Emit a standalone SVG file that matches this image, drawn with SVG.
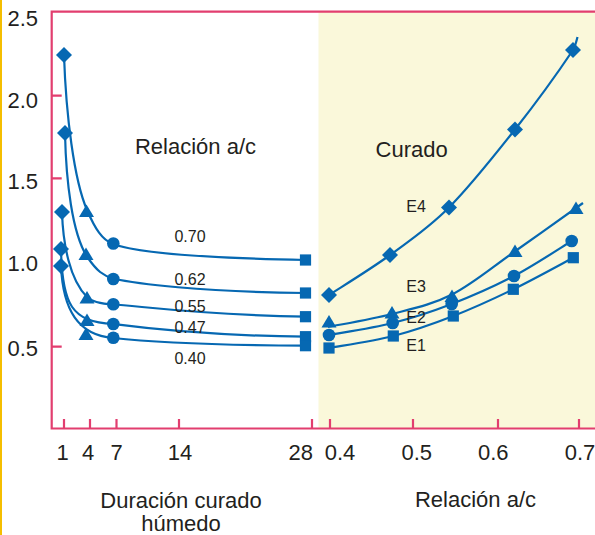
<svg xmlns="http://www.w3.org/2000/svg" xmlns:xlink="http://www.w3.org/1999/xlink" width="595" height="535" viewBox="0 0 595 535">
<style>
  .ax { stroke: #E23E6F; stroke-width: 2.2; fill: none; }
  .cv { stroke: #0668B2; stroke-width: 2.2; fill: none; }
  .mk { fill: #0668B2; }
  text { font-family: "Liberation Sans", Arial, sans-serif; fill: #231F20; }
  .big { font-size: 22px; }
  .sm { font-size: 16px; }
  .mid { text-anchor: middle; }
  .end { text-anchor: end; }
</style>
<defs>
  <path id="dia" d="M0,-8 L8,0 L0,8 L-8,0Z"/>
  <path id="tri" d="M0,-7.5 L7.5,5 L-7.5,5Z"/>
  <circle id="cir" r="6.3"/>
  <rect id="sq" x="-5.6" y="-5.6" width="11.2" height="11.2"/>
</defs>
<rect width="595" height="535" fill="#FFFFFF"/>
<line x1="1" y1="0" x2="1" y2="535" stroke="#F5BE00" stroke-width="2"/>
<g id="background">
  <rect x="318.5" y="12" width="276.5" height="416.5" fill="#FAF8DA"/>
</g>
<g id="axes">
  <path class="ax" d="M595,11.7 L51.7,11.7 L51.7,428.5 L595,428.5"/>
  <path class="ax" d="M51.7,95.7 H61.7 M51.7,178.3 H61.7 M51.7,346.7 H61.7"/>
  <path class="ax" d="M64,428.5 V419 M90,428.5 V419 M116.5,428.5 V419 M179,428.5 V419 M312,428.5 V419 M330,428.5 V419 M413,428.5 V419 M498,428.5 V419 M579,428.5 V419"/>
</g>
<g id="axis-labels">
  <text class="big end" x="38" y="26">2.5</text>
  <text class="big end" x="38" y="108">2.0</text>
  <text class="big end" x="38" y="189">1.5</text>
  <text class="big end" x="38" y="271">1.0</text>
  <text class="big end" x="38" y="356">0.5</text>
  <text class="big mid" x="62.5" y="460">1</text>
  <text class="big mid" x="88" y="460">4</text>
  <text class="big mid" x="116.5" y="460">7</text>
  <text class="big mid" x="180" y="460">14</text>
  <text class="big mid" x="300.7" y="460">28</text>
  <text class="big mid" x="340" y="460">0.4</text>
  <text class="big mid" x="416.7" y="460">0.5</text>
  <text class="big mid" x="493.3" y="460">0.6</text>
  <text class="big mid" x="580" y="460">0.7</text>
  <text class="big mid" x="181" y="508">Duración curado</text>
  <text class="big mid" x="181" y="531">húmedo</text>
  <text class="big mid" x="475.5" y="507">Relación a/c</text>
  <text class="big mid" x="195.5" y="154">Relación a/c</text>
  <text class="big mid" x="411.7" y="157">Curado</text>
</g>
<g id="connectors">
  <path id="c070" class="cv" d="M64,55 C66,115 74,180 87,210 C95,228.5 102,240 113,244 C135,252 200,258 305.5,260"/>
  <path id="c062" class="cv" d="M65,133 C66,180 72,235 88,258 C97,271 103,275.5 113,278.5 C135,283.5 200,292 305.5,293"/>
  <path id="c055" class="cv" d="M62,212 C63,245 70,280 87,297 C93,303 103,304 113,304.5 C140,306 200,315 305.5,316.7"/>
  <path id="c047" class="cv" d="M61,249 C62,305 72,322 113,324 C140,327.5 200,335.5 305.5,336.7"/>
  <path id="c040" class="cv" d="M61,266 C63,310 78,335 113,338 C140,341 200,345 305.5,345.7"/>
  <path id="e4" class="cv" d="M329,295 C339.2,288.3 370,269.6 390,255 C410,240.4 428.2,228.4 449,207.5 C469.8,186.6 494.3,155.75 515,129.5 C535.7,103.25 562.7,65.4 573,50 C575,47 576.5,41 577.5,37"/>
  <path id="e3" class="cv" d="M328,327 C338.7,324.8 371.3,319.4 392,314 C412.7,308.6 431.7,304.8 452,294.5 C472.3,284.2 492.2,267.25 514,252 C535.8,236.75 571.5,211.2 583,203"/>
  <path id="e2" class="cv" d="M329,335 C339.6,333 372.25,328.2 392.7,323 C413.15,317.8 431.5,311.8 451.7,304 C471.9,296.2 494,286.5 514,276 C534,265.5 562.1,246.8 571.7,241"/>
  <path id="e1" class="cv" d="M329,348 C339.7,346 372.6,341.3 393.3,336 C414,330.7 433.3,323.8 453.3,316 C473.3,308.2 493.3,299 513.3,289.3 C533.3,279.6 563.3,263 573.3,257.7"/>
</g>
<g id="markers-left" class="mk">
  <use href="#dia" x="64" y="55"/>
  <use href="#dia" x="65" y="133"/>
  <use href="#dia" x="62" y="212"/>
  <use href="#dia" x="61" y="249"/>
  <use href="#dia" x="61" y="266"/>
  <use href="#tri" x="86.5" y="212"/>
  <use href="#tri" x="86" y="255"/>
  <use href="#tri" x="87" y="298.5"/>
  <use href="#tri" x="87" y="321"/>
  <use href="#tri" x="86" y="335"/>
  <use href="#cir" x="113.3" y="243.5"/>
  <use href="#cir" x="113.3" y="279"/>
  <use href="#cir" x="113.3" y="304.3"/>
  <use href="#cir" x="113.3" y="324"/>
  <use href="#cir" x="113.3" y="337.7"/>
  <use href="#sq" x="305.5" y="260"/>
  <use href="#sq" x="305.5" y="293"/>
  <use href="#sq" x="305.5" y="316.7"/>
  <use href="#sq" x="305.5" y="336.7"/>
  <use href="#sq" x="305.5" y="345.7"/>
</g>
<g id="markers-right" class="mk">
  <use href="#dia" x="329" y="295"/>
  <use href="#dia" x="390" y="255"/>
  <use href="#dia" x="449" y="207.5"/>
  <use href="#dia" x="515" y="129.5"/>
  <use href="#dia" x="573" y="50"/>
  <use href="#tri" x="329" y="322.5"/>
  <use href="#tri" x="392" y="313.6"/>
  <use href="#tri" x="452" y="297"/>
  <use href="#tri" x="515" y="252"/>
  <use href="#tri" x="576" y="209"/>
  <use href="#cir" x="329" y="335"/>
  <use href="#cir" x="392.7" y="323"/>
  <use href="#cir" x="451.7" y="304"/>
  <use href="#cir" x="514" y="276"/>
  <use href="#cir" x="571.7" y="241"/>
  <use href="#sq" x="329" y="348"/>
  <use href="#sq" x="393.3" y="336"/>
  <use href="#sq" x="453.3" y="316"/>
  <use href="#sq" x="513.3" y="289.3"/>
  <use href="#sq" x="573.3" y="257.7"/>
</g>
<g id="curve-labels">
  <text class="sm mid" x="190" y="241.5">0.70</text>
  <text class="sm mid" x="190" y="285">0.62</text>
  <text class="sm mid" x="190" y="311.5">0.55</text>
  <text class="sm mid" x="190" y="332.5">0.47</text>
  <text class="sm mid" x="190" y="363.5">0.40</text>
  <text class="sm mid" x="416" y="211.5">E4</text>
  <text class="sm mid" x="416" y="291.5">E3</text>
  <text class="sm mid" x="416" y="323">E2</text>
  <text class="sm mid" x="416" y="350.5">E1</text>
</g>
</svg>
